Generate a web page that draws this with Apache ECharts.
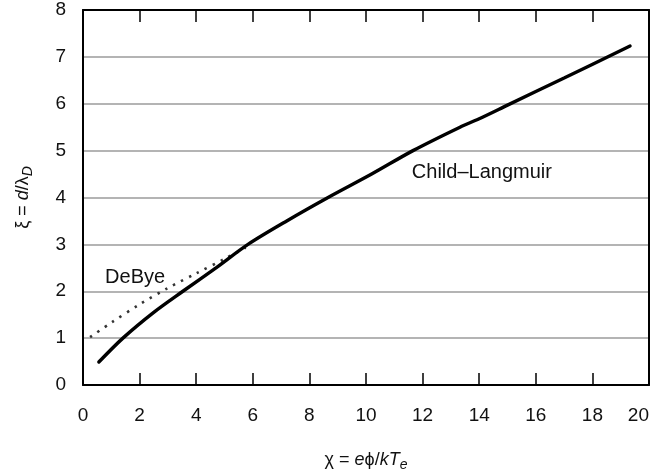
<!DOCTYPE html>
<html>
<head>
<meta charset="utf-8">
<script src="https://cdn.jsdelivr.net/npm/echarts@6/dist/echarts.min.js"></script>
<style>
html,body{margin:0;padding:0;background:#fff;}
#c{width:652px;height:470px;}
</style>
</head>
<body>
<div id="c"></div>
<script>
// Child–Langmuir curve (chi, xi)
var clChi = [0.56, 1.41, 2.5, 3.53, 4.7, 5.83, 7.2, 8.66, 10.2, 11.66, 13.32, 14.0, 15.0, 17.0, 19.33];
var clXi  = [0.49, 1.00, 1.55, 2.00, 2.50, 3.00, 3.50, 4.00, 4.50, 5.00, 5.50, 5.68, 5.97, 6.55, 7.23];
// DeBye dotted curve (chi, xi)
var dbChi = [0.25, 1.0, 2.0, 3.0, 4.0, 5.0, 5.75];
var dbXi  = [1.02, 1.33, 1.72, 2.07, 2.38, 2.69, 2.93];
// tick labels
var xTicks = [0, 2, 4, 6, 8, 10, 12, 14, 16, 18, 20];
var yTicks = [0, 1, 2, 3, 4, 5, 6, 7, 8];
// annotation anchors (data coords)
var annotText = ['DeBye', 'Child\u2013Langmuir'];
var annotChi = [0.78, 11.62];
var annotXi = [2.30, 4.54];

function pairs(a, b) { return a.map(function (v, i) { return [v, b[i]]; }); }

var FONT = '"Liberation Sans", Arial, sans-serif';
var chart = echarts.init(document.getElementById('c'), null, {renderer: 'canvas'});
var option = {
  animation: false,
  backgroundColor: '#fff',
  textStyle: {fontFamily: FONT},
  grid: {left: 83, right: 3, top: 10, bottom: 85, containLabel: false, outerBoundsMode: 'none'},
  xAxis: [{
    type: 'value', min: xTicks[0], max: xTicks[xTicks.length - 1], interval: 2,
    position: 'bottom',
    axisLine: {show: true, onZero: false, lineStyle: {color: '#000', width: 2}},
    axisTick: {show: true, inside: true, length: 12, lineStyle: {color: '#000', width: 1.5}},
    axisLabel: {show: true, margin: 21, fontSize: 19, color: '#111', fontFamily: FONT, alignMaxLabel: 'right'},
    splitLine: {show: false},
    name: '{g|\u03c7 = }{i|e}{g|\u03d5/}{i|kT}{s|e}',
    nameLocation: 'middle', nameGap: 63,
    nameTextStyle: {
      rich: {
        g: {fontSize: 18, color: '#111', fontFamily: FONT},
        i: {fontSize: 18, color: '#111', fontStyle: 'italic', fontFamily: FONT},
        s: {fontSize: 14, color: '#111', fontStyle: 'italic', fontFamily: FONT, padding: [10, 0, 0, 0]}
      }
    }
  }, {
    type: 'value', min: 0, max: 20, interval: 2, position: 'top',
    axisLine: {show: true, onZero: false, lineStyle: {color: '#000', width: 2}},
    axisTick: {show: true, inside: true, length: 12, lineStyle: {color: '#000', width: 1.5}},
    axisLabel: {show: false}, splitLine: {show: false}
  }],
  yAxis: [{
    type: 'value', min: yTicks[0], max: yTicks[yTicks.length - 1], interval: 1,
    position: 'left',
    axisLine: {show: true, onZero: false, lineStyle: {color: '#000', width: 2}},
    axisTick: {show: false},
    axisLabel: {show: true, margin: 17, fontSize: 19, color: '#111', fontFamily: FONT},
    splitLine: {show: true, lineStyle: {color: '#b4b4b4', width: 2}},
    name: '{g|\u03be = }{i|d}{g|/\u03bb}{s|D}',
    nameLocation: 'middle', nameGap: 48, nameRotate: 90,
    nameTextStyle: {
      rich: {
        g: {fontSize: 18, color: '#111', fontFamily: FONT},
        i: {fontSize: 18, color: '#111', fontStyle: 'italic', fontFamily: FONT},
        s: {fontSize: 14, color: '#111', fontStyle: 'italic', fontFamily: FONT, padding: [10, 0, 0, 0]}
      }
    }
  }, {
    type: 'value', min: 0, max: 8, interval: 1, position: 'right',
    axisLine: {show: true, onZero: false, lineStyle: {color: '#000', width: 2}},
    axisTick: {show: false}, axisLabel: {show: false}, splitLine: {show: false}
  }],
  series: [{
    name: 'DeBye', type: 'line', xAxisIndex: 0, yAxisIndex: 0,
    data: pairs(dbChi, dbXi), smooth: 0.3, showSymbol: false,
    lineStyle: {color: '#333', width: 2.6, type: [2.4, 6.5]}, z: 3
  }, {
    name: 'Child\u2013Langmuir', type: 'line', xAxisIndex: 0, yAxisIndex: 0,
    data: pairs(clChi, clXi), smooth: 0.3, showSymbol: false,
    lineStyle: {color: '#000', width: 3.4, cap: 'round'}, z: 4
  }]
};
chart.setOption(option);

var gfx = annotText.map(function (t, i) {
  var p = chart.convertToPixel({xAxisIndex: 0, yAxisIndex: 0}, [annotChi[i], annotXi[i]]);
  return {
    type: 'text', x: p[0], y: p[1], z: 10,
    style: {text: t, fill: '#111', fontSize: 20, fontFamily: FONT, align: 'left', verticalAlign: 'middle'}
  };
});
chart.setOption({graphic: gfx});
</script>
</body>
</html>
